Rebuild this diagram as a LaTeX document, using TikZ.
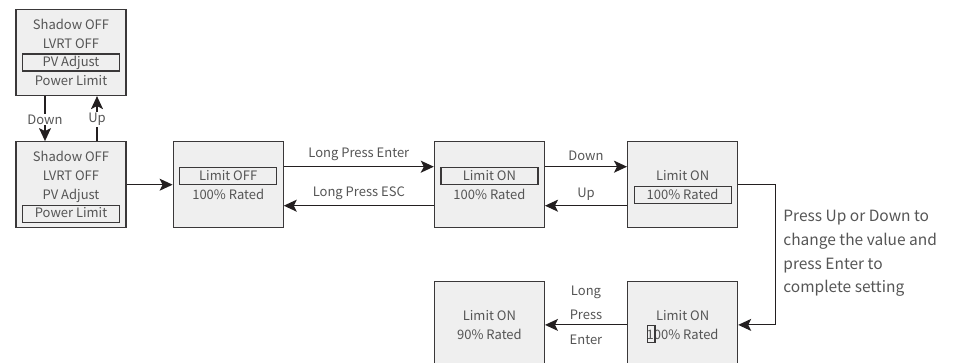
\documentclass[tikz,border=0pt]{standalone}
\usepackage{fontspec}
\setmainfont{Noto Sans CJK SC}
\usepackage{xcolor}
\usetikzlibrary{arrows.meta,positioning}
\definecolor{screenfill}{HTML}{EFEFEF}
\definecolor{edgecol}{HTML}{3A3839}
\definecolor{textcol}{HTML}{555555}
\definecolor{linecol}{HTML}{231F20}

\begin{document}
\begin{tikzpicture}[
    x=1pt, y=-1pt,
    screen/.style={
      draw=edgecol, fill=screenfill, line width=1.2pt,
      minimum width=110pt, minimum height=86pt, inner sep=0pt,
      align=center, text=textcol, font=\fontsize{13}{18.7}\selectfont
    },
    sel/.style={
      draw=edgecol, line width=1.2pt, minimum width=97pt,
      minimum height=17pt, inner sep=0pt
    },
    lbl/.style={text=textcol, font=\fontsize{13}{16}\selectfont, inner sep=1pt},
    arr/.style={-{Stealth[length=13pt,width=12pt,inset=3pt]}, line width=1.2pt, draw=linecol}
  ]
    \clip (0,0) rectangle (954,363);

    % Menu screens
    \node[screen] (menu) at (71,52.5) {Shadow OFF\\LVRT OFF\\PV Adjust\\Power Limit};
    \node[screen, below=45pt of menu] (menu2) {Shadow OFF\\LVRT OFF\\PV Adjust\\Power Limit};
    \node[sel] (menu sel) at ([yshift=-10pt]menu.center) {};
    \node[sel] (menu2 sel) at ([yshift=-29pt]menu2.center) {};

    % Power limit screens
    \node[screen, right=46pt of menu2] (off) {Limit OFF\\100\% Rated};
    \node[screen, right=150pt of off] (on) {Limit ON\\100\% Rated};
    \node[screen, right=82pt of on] (rated) {Limit ON\\100\% Rated};
    \node[screen, below=53pt of rated] (edit) {Limit ON\\100\% Rated};
    \node[screen, left=82pt of edit] (done) {Limit ON\\90\% Rated};
    \node[sel] (off sel) at ([yshift=9pt]off.center) {};
    \node[sel] (on sel) at ([yshift=9pt]on.center) {};
    \node[sel] (rated sel) at ([yshift=-10pt]rated.center) {};
    \node[sel, minimum width=7.6pt] (edit sel) at ([xshift=-31.5pt,yshift=-9.5pt]edit.center) {};

    % Connectors
    \draw[arr] ([xshift=-26pt]menu.south) -- node[lbl, fill=white, yshift=-1pt] {Down} ([xshift=-26pt]menu2.north);
    \draw[arr] ([xshift=26pt]menu2.north) -- node[lbl, fill=white, yshift=-1pt] {Up} ([xshift=26pt]menu.south);
    \draw[arr] (menu2) -- (off);

    \draw[arr] ([yshift=18pt]off.east) -- node[lbl, above=4pt] {Long Press Enter} ([yshift=18pt]on.west);
    \draw[arr] ([yshift=-21pt]on.west) -- node[lbl, above=4pt] {Long Press ESC} ([yshift=-21pt]off.east);
    \draw[arr] ([yshift=18pt]on.east) -- node[lbl, above=4pt] {Down} ([yshift=18pt]rated.west);
    \draw[arr] ([yshift=-21pt]rated.west) -- node[lbl, above=4pt] {Up} ([yshift=-21pt]on.east);

    \draw[arr] (rated.east) -- ++(37pt,0) |- (edit.east);
    \draw[arr] (edit) -- node[lbl, align=center, yshift=10pt,
      font=\fontsize{13}{24.5}\selectfont] {Long\\Press\\Enter} (done);

    \node[lbl, anchor=north west, align=left, inner sep=0pt,
      font=\fontsize{15.5}{23.7}\selectfont] (hint) at ([xshift=45pt,yshift=18pt]rated.south east)
      {Press Up or Down to\\change the value and\\press Enter to\\complete setting};
  \end{tikzpicture}
\end{document}
